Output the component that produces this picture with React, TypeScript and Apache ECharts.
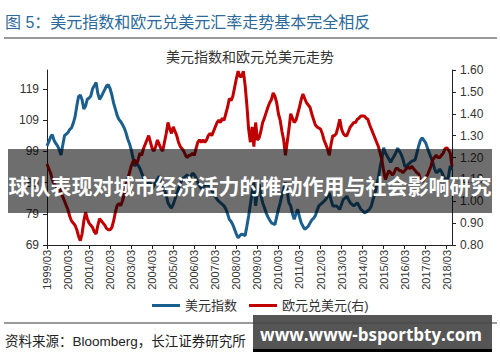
import React, { useEffect, useRef } from "react";
import * as echarts from "echarts";

const startYear = 1999;
const startMonth = 3;
const monthCount = 232; // 1999/03 .. 2018/06

const categories: string[] = [];
for (let i = 0; i < monthCount; i++) {
  const t = startMonth - 1 + i;
  const y = startYear + Math.floor(t / 12);
  const m = (t % 12) + 1;
  categories.push(`${y}/${m < 10 ? "0" + m : m}`);
}

// 美元指数 (left axis), monthly
const dxy = [
  // 1999 Mar-Dec
  100.7, 102, 103.5, 104.3, 102.5, 101.5, 100.7, 99.5, 97.8, 101,
  // 2000
  104, 104.5, 105, 106, 106.5, 108, 110, 113.5, 116.5, 117, 115.5, 112.5,
  // 2001
  113.5, 115.7, 116, 116.7, 119, 120, 121, 117.5, 115.6, 116.5, 117.7, 118.8,
  // 2002
  120, 120.2, 119, 117, 114.4, 112.5, 110.5, 109.2, 108.5, 107.6, 106.5, 105,
  // 2003
  103, 101.5, 99.6, 97, 94.3, 95, 94.5, 93.5, 92, 90.5, 89, 88.5,
  // 2004
  90, 88.5, 87, 88, 89, 90, 91, 89.5, 88, 86.5, 85, 82.5,
  // 2005
  81.5, 80.8, 82, 83.6, 85.5, 87, 88.5, 90, 90.5, 91, 91.5, 90,
  // 2006
  91, 92, 91.5, 90.5, 89, 88, 87, 87.5, 88, 88.3, 88, 87.9,
  // 2007
  86.5, 85.5, 84.5, 83.6, 83, 82.5, 82, 81.5, 80.5, 79, 77.2, 76.5,
  // 2008
  75.5, 74, 72.5, 71.3, 72, 72.5, 72.3, 72, 75, 78.3, 82, 85.7,
  // 2009
  89, 81.5, 86, 88.5, 85, 82.5, 81, 79.3, 78, 77, 76.1, 75.8,
  // 2010
  75.5, 78, 80.4, 82.5, 85, 86.8, 89, 86, 82.5, 81.5, 79, 77.2,
  // 2011
  79, 80.4, 78, 76.1, 75, 74, 74.5, 75, 76, 77, 77.5, 78.3,
  // 2012
  80, 81.5, 82, 82.5, 83, 83.6, 84.5, 85.7, 83.5, 81.5, 81.5, 81.5,
  // 2013
  81, 80.4, 82, 83.6, 84, 84.6, 83.5, 82.5, 82, 81.5, 82, 82.5,
  // 2014
  81.5, 80.4, 80, 79.3, 79.5, 80, 80.5, 81.5, 83.6, 85.5, 87.9, 90.5,
  // 2015
  94, 96.5, 100.1, 98.5, 97.5, 96.5, 95.5, 96.5, 97.5, 98.5, 100, 99,
  // 2016
  98, 96.5, 94.3, 94, 94.8, 95.3, 95.8, 96, 96.3, 98.5, 100.7, 102.5,
  // 2017
  103.3, 102.5, 101.7, 100, 98.5, 97, 95.5, 93.5, 92.1, 92.5, 93.3, 92.5,
  // 2018 Jan-Jun
  91.2, 90.2, 89.5, 91, 94.3, 93,
];

// 欧元兑美元 (right axis), monthly
const eurusd = [
  // 1999 Mar-Dec
  1.17, 1.15, 1.13, 1.1, 1.08, 1.07, 1.06, 1.07, 1.04, 1.02,
  // 2000
  1.0, 0.98, 0.96, 0.93, 0.91, 0.9, 0.89, 0.87, 0.84, 0.82, 0.85, 0.91,
  // 2001
  0.95, 0.92, 0.9, 0.89, 0.88, 0.86, 0.85, 0.89, 0.92, 0.91, 0.9, 0.89,
  // 2002
  0.875, 0.87, 0.87, 0.88, 0.91, 0.95, 0.98, 0.99, 0.98, 1.0, 1.03, 1.07,
  // 2003
  1.1, 1.13, 1.16, 1.18, 1.19, 1.17, 1.19, 1.22, 1.21, 1.24, 1.26, 1.28,
  // 2004
  1.3, 1.27, 1.24, 1.23, 1.25, 1.28, 1.26, 1.24, 1.23, 1.27, 1.31, 1.36,
  // 2005
  1.33, 1.31, 1.34, 1.32, 1.3, 1.27, 1.25, 1.24, 1.23, 1.21, 1.2, 1.21,
  // 2006
  1.21, 1.22, 1.21, 1.24, 1.27, 1.28, 1.27, 1.28, 1.27, 1.28, 1.3, 1.31,
  // 2007
  1.3, 1.32, 1.34, 1.36, 1.37, 1.36, 1.38, 1.37, 1.4, 1.43, 1.47, 1.46,
  // 2008
  1.48, 1.52, 1.56, 1.595, 1.57, 1.57, 1.595, 1.53, 1.44, 1.33, 1.27, 1.34,
  // 2009
  1.25, 1.36, 1.28, 1.29, 1.32, 1.36, 1.38, 1.405, 1.43, 1.45, 1.465, 1.495,
  // 2010
  1.48, 1.45, 1.4, 1.37, 1.32, 1.28, 1.21, 1.27, 1.33, 1.4, 1.38, 1.36,
  // 2011
  1.37, 1.4, 1.43, 1.465, 1.49, 1.47, 1.45, 1.44, 1.43, 1.4, 1.375, 1.35,
  // 2012
  1.34, 1.335, 1.33, 1.31, 1.28, 1.26, 1.24, 1.21, 1.26, 1.3, 1.3, 1.31,
  // 2013
  1.34, 1.375, 1.33, 1.31, 1.3, 1.3, 1.32, 1.34, 1.35, 1.36, 1.36, 1.375,
  // 2014
  1.38, 1.39, 1.39, 1.39, 1.38, 1.375, 1.35, 1.33, 1.31, 1.29, 1.27, 1.25,
  // 2015
  1.22, 1.19, 1.14, 1.1, 1.12, 1.14, 1.13, 1.12, 1.13, 1.15, 1.15, 1.14,
  // 2016
  1.14, 1.13, 1.14, 1.15, 1.155, 1.15, 1.16, 1.15, 1.14, 1.13, 1.125, 1.1,
  // 2017
  1.09, 1.1, 1.11, 1.12, 1.14, 1.16, 1.19, 1.2, 1.21, 1.2, 1.2, 1.21,
  // 2018 Jan-Jun
  1.22, 1.24, 1.245, 1.235, 1.22, 1.16,
];

const seriesNames = ["美元指数", "欧元兑美元(右)"];
const mainTitle = "图 5：美元指数和欧元兑美元汇率走势基本完全相反";
const chartTitle = "美元指数和欧元兑美元走势";
const sourceText = "资料来源：Bloomberg，长江证券研究所";
const bannerText = "球队表现对城市经济活力的推动作用与社会影响研究";
const watermarkText = "www.www-bsportbty.com";

const CJK = "'Liberation Sans', 'Noto Sans CJK SC', sans-serif";

export default function App() {
  const ref = useRef<HTMLDivElement>(null);

  useEffect(() => {
    if (!ref.current) return;
    const chart = echarts.init(ref.current, undefined, { renderer: "svg" });
    const axisLabelStyle = { color: "#333", fontSize: 12, fontFamily: "'Liberation Sans', sans-serif" };
    chart.setOption({
      animation: false,
      backgroundColor: "#fff",
      grid: { left: 47, right: 48, top: 70, bottom: 117, containLabel: false },
      legend: {
        data: seriesNames,
        left: 152,
        top: 299,
        icon: "rect",
        itemWidth: 28,
        itemHeight: 3,
        itemGap: 12,
        padding: 0,
        textStyle: { color: "#333", fontSize: 13, fontFamily: CJK },
      },
      xAxis: {
        type: "category",
        data: categories,
        boundaryGap: false,
        axisLine: { lineStyle: { color: "#222", width: 1 } },
        axisTick: { interval: 11, length: 4, lineStyle: { color: "#222" } },
        axisLabel: {
          interval: 11,
          rotate: 90,
          margin: 5,
          color: "#333",
          fontSize: 11,
          fontFamily: "'Liberation Sans', sans-serif",
        },
        splitLine: { show: false },
      },
      yAxis: [
        {
          type: "value",
          position: "left",
          min: 69,
          max: 125,
          interval: 10,
          axisLine: { show: true, lineStyle: { color: "#222", width: 1 } },
          axisTick: { show: true, length: 4, lineStyle: { color: "#222" } },
          axisLabel: { ...axisLabelStyle, margin: 8, showMaxLabel: false },
          splitLine: { show: false },
        },
        {
          type: "value",
          position: "right",
          min: 0.8,
          max: 1.6,
          interval: 0.1,
          axisLine: { show: true, lineStyle: { color: "#222", width: 1 } },
          axisTick: { show: true, length: 4, lineStyle: { color: "#222" } },
          axisLabel: {
            ...axisLabelStyle,
            margin: 8,
            formatter: (v: number) => v.toFixed(2),
          },
          splitLine: { show: false },
        },
      ],
      series: [
        {
          name: seriesNames[0],
          type: "line",
          yAxisIndex: 0,
          data: dxy,
          showSymbol: false,
          symbol: "none",
          lineStyle: { color: "#1B5F8F", width: 3 },
          itemStyle: { color: "#1B5F8F" },
        },
        {
          name: seriesNames[1],
          type: "line",
          yAxisIndex: 1,
          data: eurusd,
          showSymbol: false,
          symbol: "none",
          lineStyle: { color: "#C00000", width: 3 },
          itemStyle: { color: "#C00000" },
        },
      ],
      graphic: [
        {
          type: "text",
          x: 5,
          y: 22,
          style: {
            text: mainTitle,
            fill: "#2B6A9B",
            fontSize: 16,
            fontFamily: CJK,
            textVerticalAlign: "middle",
            verticalAlign: "middle",
          },
        },
        {
          type: "line",
          shape: { x1: 4, y1: 38, x2: 497, y2: 38 },
          style: { stroke: "#9a9a9a", lineWidth: 2 },
        },
        {
          type: "text",
          x: 250,
          y: 57,
          style: {
            text: chartTitle,
            fill: "#333",
            fontSize: 14,
            fontFamily: CJK,
            textAlign: "center",
            align: "center",
            textVerticalAlign: "middle",
            verticalAlign: "middle",
          },
        },
        {
          type: "line",
          shape: { x1: 4, y1: 323, x2: 497, y2: 323 },
          style: { stroke: "#9a9a9a", lineWidth: 2 },
        },
        {
          type: "text",
          x: 5,
          y: 341,
          style: {
            text: sourceText,
            fill: "#222",
            fontSize: 13.5,
            fontFamily: CJK,
            textVerticalAlign: "middle",
            verticalAlign: "middle",
          },
        },
        {
          type: "rect",
          z: 100,
          shape: { x: 8, y: 149, width: 484, height: 64 },
          style: { fill: "rgba(0,0,0,0.57)" },
        },
        {
          type: "text",
          z: 101,
          x: 250,
          y: 185,
          style: {
            text: bannerText,
            fill: "#fff",
            fontSize: 21,
            fontWeight: "bold",
            fontFamily: "'Noto Sans CJK SC', sans-serif",
            textAlign: "center",
            align: "center",
            textVerticalAlign: "middle",
            verticalAlign: "middle",
          },
        },
        {
          type: "rect",
          z: 100,
          shape: { x: 253, y: 315, width: 239, height: 35 },
          style: { fill: "rgba(70,70,70,0.92)" },
        },
        {
          type: "rect",
          z: 100,
          shape: { x: 253, y: 349, width: 239, height: 3 },
          style: { fill: "#000" },
        },
        {
          type: "text",
          z: 101,
          x: 371,
          y: 334,
          style: {
            text: watermarkText,
            fill: "#fff",
            fontSize: 17,
            fontWeight: "bold",
            fontFamily: "'Open Sans', 'Noto Sans', sans-serif",
            textAlign: "center",
            align: "center",
            textVerticalAlign: "middle",
            verticalAlign: "middle",
          },
        },
      ],
    });
    return () => chart.dispose();
  }, []);

  return (
    <div
      ref={ref}
      style={{ position: "fixed", left: 0, top: 0, width: 500, height: 362, background: "#fff" }}
    />
  );
}
